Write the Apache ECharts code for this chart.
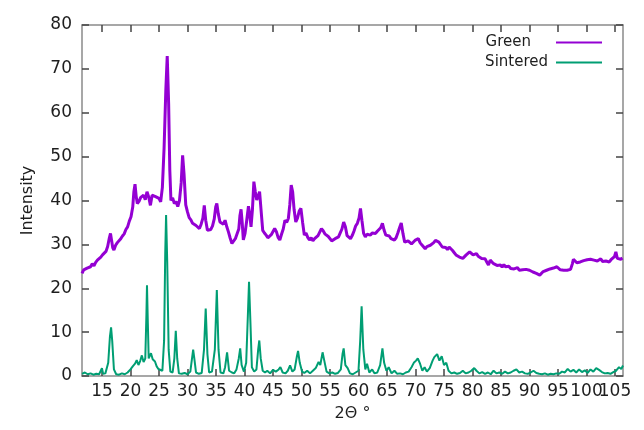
<!DOCTYPE html>
<html>
<head>
<meta charset="utf-8">
<script src="https://cdn.jsdelivr.net/npm/echarts@6/dist/echarts.min.js"></script>
<style>html,body{margin:0;padding:0;background:#fff}#c{width:644px;height:430px}</style>
</head>
<body>
<div id="c"></div>
<script>
var seriesNames = ['Green', 'Sintered'];
var xTickValues = [15,20,25,30,35,40,45,50,55,60,65,70,75,80,85,90,95,100,105];
var xLabelsOdd = [15,25,35,45,55,65,75,85,95,105];
var xLabelsEven = [20,30,40,50,60,70,80,90,100];
var yRange = [0, 80];
var xRange = [11.5, 106.4];

var greenPoints = [
[11.5,23.4],[11.8,24.2],[12.1,23.8],[12.4,24.6],[12.7,24.3],[13,24.9],[13.3,25.6],[13.6,25.1],[13.9,25.9],[14.2,26.4],[14.5,26],[14.8,27.1],[15.1,27.6],[15.4,27.3],[15.7,28.4],[16,29.5],[16.3,31.5],[16.5,32.5],[16.7,30.8],[16.9,29.2],[17.1,28.7],[17.4,29.8],[17.7,30.4],[18,30.1],[18.3,31.3],[18.6,31.9],[18.9,32.4],[19.2,33.4],[19.5,34],[19.8,35.3],[20.1,36.3],[20.4,38.5],[20.6,42],[20.8,43.7],[21,41],[21.2,39.3],[21.5,39.8],[21.8,40.7],[22,40.5],[22.3,41.2],[22.6,40.2],[22.9,42],[23.2,40.8],[23.5,38.9],[23.8,41.2],[24.1,41.6],[24.4,40.9],[24.7,41.1],[25,40.5],[25.3,39.7],[25.6,43],[25.9,52],[26.2,65],[26.45,72.9],[26.7,62],[26.9,47],[27.1,40],[27.4,40.6],[27.7,39.3],[28,39.8],[28.3,38.6],[28.6,40],[28.9,44],[29.15,50.3],[29.4,46],[29.7,39],[30,37.4],[30.3,36.1],[30.6,35.6],[30.9,34.8],[31.2,35.2],[31.5,34.3],[31.8,33.9],[32.1,33.6],[32.4,34.6],[32.7,36],[32.95,38.9],[33.2,35.5],[33.5,33.2],[33.8,32.8],[34.1,33.4],[34.4,34.2],[34.7,35.8],[34.95,38.5],[35.15,39.3],[35.4,37],[35.7,35.1],[36,35.3],[36.3,34.6],[36.6,35.5],[36.9,34],[37.2,32.8],[37.5,31.4],[37.8,30.2],[38.1,30.6],[38.4,31.3],[38.7,31],[39,33.5],[39.2,36.5],[39.4,38],[39.6,35],[39.8,31],[40.1,32.5],[40.4,35.5],[40.7,38.7],[40.9,37],[41.15,34],[41.4,38],[41.65,44.3],[41.9,42],[42.15,40.1],[42.4,41],[42.65,42],[42.9,38],[43.2,33.2],[43.5,32.6],[43.8,32.1],[44.1,31.5],[44.4,31.3],[44.7,32.2],[45,32.4],[45.3,33.6],[45.6,32.9],[45.9,31.6],[46.2,31],[46.5,32.3],[46.8,33.5],[47.1,35.5],[47.4,35],[47.7,35.9],[47.95,39],[48.2,43.5],[48.45,42],[48.7,38],[49,35.1],[49.3,36],[49.6,37.6],[49.9,38.2],[50.2,35],[50.5,32.1],[50.8,32.6],[51.1,31.6],[51.4,31],[51.7,31.5],[52,30.8],[52.3,31.3],[52.6,31],[52.9,32],[53.2,32.8],[53.5,33.6],[53.8,33.1],[54.1,32.4],[54.4,32.5],[54.7,31.8],[55,31.4],[55.3,30.8],[55.6,30.6],[55.9,31.3],[56.2,30.9],[56.5,31.7],[56.8,32.6],[57.1,33.5],[57.4,35.1],[57.7,34],[58,32],[58.3,31.7],[58.6,31.3],[58.9,32],[59.2,33],[59.5,34.2],[59.8,34.8],[60.1,36],[60.35,38.2],[60.6,35.5],[60.9,32.5],[61.2,31.7],[61.5,32.3],[61.8,31.9],[62.1,32.1],[62.4,32.6],[62.7,32.2],[63,32.5],[63.3,33],[63.6,33.4],[63.9,33.8],[64.2,34.8],[64.5,33.2],[64.8,32.1],[65.1,31.7],[65.4,31.9],[65.7,31.3],[66,31.4],[66.3,31],[66.6,31.5],[66.9,32.6],[67.2,33.8],[67.5,34.9],[67.8,32.5],[68.1,30.5],[68.4,30.2],[68.7,30.8],[69,30.4],[69.3,30.1],[69.6,30.3],[69.9,30.9],[70.2,31],[70.5,31.3],[70.8,30.4],[71.1,29.9],[71.4,29.6],[71.7,29],[72,29.5],[72.3,29.3],[72.6,29.8],[72.9,30.2],[73.2,30.4],[73.5,30.9],[73.8,31.3],[74.1,30.5],[74.4,30.1],[74.7,29.4],[75,29],[75.3,29.3],[75.6,28.8],[75.9,29.4],[76.2,29.1],[76.5,28.6],[76.8,28.1],[77.1,27.6],[77.4,27.5],[77.7,27.1],[78,27.4],[78.3,26.8],[78.6,27.2],[78.9,27.6],[79.2,27.9],[79.5,28.3],[79.8,28],[80.1,27.6],[80.4,27.9],[80.7,27.9],[81,27.3],[81.3,27.6],[81.6,26.8],[81.9,26.4],[82.2,26.7],[82.5,26],[82.8,25.3],[83.1,26.4],[83.4,26.1],[83.7,25.6],[84,25.9],[84.3,25.2],[84.6,25.6],[84.9,25.3],[85.2,24.8],[85.5,25.4],[85.8,24.9],[86.1,24.6],[86.4,25],[86.7,24.5],[87,24.9],[87.3,24.4],[87.6,24.2],[87.9,24.7],[88.2,24.1],[88.5,24.5],[88.8,24.2],[89.1,24.6],[89.4,24.3],[89.7,24.7],[90,24.1],[90.3,24.4],[90.6,23.7],[90.9,23.9],[91.2,23.4],[91.5,23.6],[91.8,23],[92.1,23.4],[92.4,23.8],[92.7,23.5],[93,24.1],[93.3,23.9],[93.6,24.4],[93.9,24.1],[94.2,24.6],[94.5,24.3],[94.8,24.9],[95.1,24.5],[95.4,24.2],[95.7,24.6],[96,24.1],[96.3,24.4],[96.6,24.1],[96.9,24.5],[97.2,24.3],[97.5,25.5],[97.7,26.6],[98,26.2],[98.3,25.8],[98.6,25.6],[98.9,26],[99.2,25.6],[99.5,26.3],[99.8,26.1],[100.1,26.5],[100.4,26.9],[100.7,26.6],[101,26.9],[101.3,26.4],[101.6,26.8],[101.9,26.2],[102.2,26.5],[102.5,26.7],[102.8,26.1],[103.1,26.4],[103.4,26.2],[103.7,26.6],[104,26],[104.3,26.5],[104.6,26.3],[104.9,27.2],[105.15,28.3],[105.4,26.8],[105.7,27],[106,26.6],[106.3,26.9]
];

var sinteredPoints = [
[11.5,0.5],[12,0.8],[12.5,0.4],[13,0.6],[13.5,0.3],[14,0.5],[14.5,0.4],[14.8,0.6],[15,1.8],[15.2,0.5],[15.6,0.6],[16.1,3],[16.4,9],[16.6,11.1],[16.8,8],[17.1,1.5],[17.5,0.4],[18,0.3],[18.5,0.6],[19,0.4],[19.5,0.8],[20,1.5],[20.4,2.2],[20.8,2.8],[21.1,3.6],[21.4,2.5],[21.7,3.4],[22,4.7],[22.3,3.2],[22.6,4],[22.8,14],[22.9,20.7],[23.05,12],[23.2,4],[23.6,5.2],[23.9,3.8],[24.3,3.3],[24.6,2.2],[24.9,1.6],[25.2,1.3],[25.6,1.2],[25.9,8],[26.1,28],[26.25,36.7],[26.45,26],[26.7,6],[27,1],[27.4,0.8],[27.7,4],[27.95,10.3],[28.2,4],[28.5,0.6],[29,0.5],[29.5,0.7],[30,0.4],[30.5,1],[30.8,4],[31,6],[31.2,4],[31.5,0.8],[32,0.5],[32.5,0.7],[32.9,6],[33.2,15.4],[33.5,5],[33.8,0.8],[34.3,1],[34.8,6],[35.15,19.6],[35.45,6],[35.8,0.8],[36.3,0.6],[36.6,2],[36.95,5.4],[37.3,1.2],[37.8,0.8],[38.2,0.6],[38.6,1.5],[39,4],[39.25,6.3],[39.5,2.5],[39.9,1],[40.3,3],[40.6,14],[40.8,21.5],[41.05,12],[41.3,2],[41.7,1],[42.1,1.5],[42.4,6],[42.6,8.1],[42.85,4],[43.2,1.2],[43.6,0.8],[44,1.2],[44.5,0.6],[45,1.4],[45.5,1],[46,1.5],[46.3,2],[46.7,0.8],[47.2,0.6],[47.6,1.2],[48,2.4],[48.4,1],[48.8,1.5],[49.2,4.5],[49.4,5.7],[49.7,3],[50.1,1],[50.5,0.7],[51,1.2],[51.5,0.6],[52,1.2],[52.5,1.8],[53,3.2],[53.3,2.5],[53.7,5.4],[54,3.5],[54.4,1],[54.9,0.6],[55.4,0.8],[55.9,0.5],[56.4,0.7],[56.9,1.5],[57.2,5],[57.4,6.3],[57.7,2.5],[58.1,1.8],[58.5,0.6],[59,0.4],[59.5,0.8],[60,1.2],[60.3,8],[60.55,15.9],[60.85,6],[61.2,1.5],[61.5,2.8],[61.9,0.8],[62.4,1.5],[62.8,0.6],[63.3,0.8],[63.8,2.5],[64.2,6.3],[64.5,3],[64.9,1.2],[65.3,2],[65.8,0.6],[66.3,1.2],[66.8,0.5],[67.3,0.6],[67.8,0.4],[68.3,0.8],[68.8,1],[69.3,2],[69.7,3],[70.1,3.5],[70.4,4],[70.8,2.8],[71.2,1.2],[71.6,2],[72,1],[72.5,1.8],[73,3.5],[73.3,4.3],[73.8,5],[74.2,3.5],[74.6,4.5],[75,2.5],[75.4,3],[75.8,1.2],[76.3,0.6],[76.8,0.8],[77.3,0.5],[77.8,0.7],[78.3,1.2],[78.8,0.6],[79.3,0.8],[79.8,1.2],[80.3,1.8],[80.7,1.2],[81.2,0.6],[81.7,0.9],[82.2,0.5],[82.7,0.8],[83.2,0.4],[83.7,1.2],[84.2,0.6],[84.7,0.8],[85.2,0.5],[85.7,1],[86.2,0.6],[86.7,0.8],[87.2,1.2],[87.7,1.5],[88.2,0.8],[88.7,1],[89.2,0.6],[89.7,0.5],[90.2,0.8],[90.7,1.2],[91.2,0.7],[91.7,0.5],[92.2,0.4],[92.7,0.6],[93.2,0.3],[93.7,0.5],[94.2,0.4],[94.7,0.6],[95.2,0.5],[95.7,1],[96.2,0.8],[96.7,1.6],[97.2,1],[97.7,1.4],[98.2,0.8],[98.7,1.5],[99.2,0.9],[99.7,1.3],[100.2,0.7],[100.7,1.5],[101.2,1],[101.7,1.8],[102.2,1.4],[102.7,0.9],[103.2,0.6],[103.7,0.7],[104.2,0.5],[104.7,0.9],[105.2,1.2],[105.7,2],[106.1,1.6],[106.4,2.4]
];

var FONT = 'DejaVu Sans';
var TXT = '#1e1e1e';
var AX = '#8a8a8a';
var TICK = '#444444';
var PURPLE = '#9400d3';
var TEAL = '#009e73';

function tickStyle(inside, vals) {
  var t = {show: true, inside: inside, length: 7, lineStyle: {color: TICK, width: 1.5}};
  if (vals) t.customValues = vals;
  return t;
}
function xLabelStyle(vals) {
  return {show: true, customValues: vals, fontFamily: FONT, fontSize: 17, color: TXT, margin: 7,
          hideOverlap: false, showMinLabel: true, showMaxLabel: true};
}

var chart = echarts.init(document.getElementById('c'));
chart.setOption({
  animation: false,
  backgroundColor: '#fff',
  grid: [
    {left: 82, right: 21, top: 25, bottom: 54},
    {left: 82, right: 21, top: 5, height: 20}
  ],
  legend: [
    {data: [seriesNames[0]], orient: 'vertical', right: 37, top: 30, itemWidth: 46, itemHeight: 2, icon: 'rect',
     textStyle: {fontFamily: FONT, fontSize: 15, color: TXT, padding: [0, 20, 0, 0]}, align: 'right', selectedMode: false},
    {data: [seriesNames[1]], orient: 'vertical', right: 37, top: 50, itemWidth: 46, itemHeight: 2, icon: 'rect',
     textStyle: {fontFamily: FONT, fontSize: 15, color: TXT, padding: [0, 3, 0, 0]}, align: 'right', selectedMode: false}
  ],
  xAxis: [
    {type: 'value', gridIndex: 0, min: xRange[0], max: xRange[1], position: 'bottom',
     name: '2Θ °', nameLocation: 'middle', nameGap: 30,
     nameTextStyle: {fontFamily: FONT, fontSize: 16, color: TXT},
     axisLine: {show: true, onZero: false, lineStyle: {color: AX, width: 1.5}},
     axisTick: tickStyle(true, xTickValues),
     axisLabel: xLabelStyle(xLabelsOdd),
     splitLine: {show: false}},
    {type: 'value', gridIndex: 0, min: xRange[0], max: xRange[1], position: 'top',
     axisLine: {show: true, onZero: false, lineStyle: {color: AX, width: 1.5}},
     axisTick: {show: false}, axisLabel: {show: false}, splitLine: {show: false}},
    {type: 'value', gridIndex: 0, min: xRange[0], max: xRange[1], position: 'bottom', offset: 0,
     axisLine: {show: false, onZero: false},
     axisTick: {show: false},
     axisLabel: xLabelStyle(xLabelsEven),
     splitLine: {show: false}},
    {type: 'value', gridIndex: 1, min: xRange[0], max: xRange[1], position: 'bottom',
     axisLine: {show: false, onZero: false},
     axisTick: tickStyle(false, xTickValues),
     axisLabel: {show: false}, splitLine: {show: false}}
  ],
  yAxis: [
    {type: 'value', gridIndex: 0, min: yRange[0], max: yRange[1], interval: 10,
     name: 'Intensity', nameLocation: 'middle', nameGap: 46, nameRotate: 90,
     nameTextStyle: {fontFamily: FONT, fontSize: 16, color: TXT},
     axisLine: {show: true, onZero: false, lineStyle: {color: AX, width: 1.5}},
     axisTick: tickStyle(true),
     axisLabel: {fontFamily: FONT, fontSize: 17, color: TXT, margin: 10},
     splitLine: {show: false}},
    {type: 'value', gridIndex: 0, min: yRange[0], max: yRange[1], interval: 10, position: 'right',
     axisLine: {show: true, onZero: false, lineStyle: {color: AX, width: 1.5}},
     axisTick: tickStyle(true), axisLabel: {show: false}, splitLine: {show: false}},
    {type: 'value', gridIndex: 1, show: false, min: 0, max: 1}
  ],
  series: [
    {name: seriesNames[0], type: 'line', data: greenPoints, symbol: 'none', showSymbol: false,
     color: PURPLE, lineStyle: {color: PURPLE, width: 3}, xAxisIndex: 0, yAxisIndex: 0, z: 3},
    {name: seriesNames[1], type: 'line', data: sinteredPoints, symbol: 'none', showSymbol: false,
     color: TEAL, lineStyle: {color: TEAL, width: 2}, xAxisIndex: 0, yAxisIndex: 0, z: 4}
  ]
});
</script>
</body>
</html>
